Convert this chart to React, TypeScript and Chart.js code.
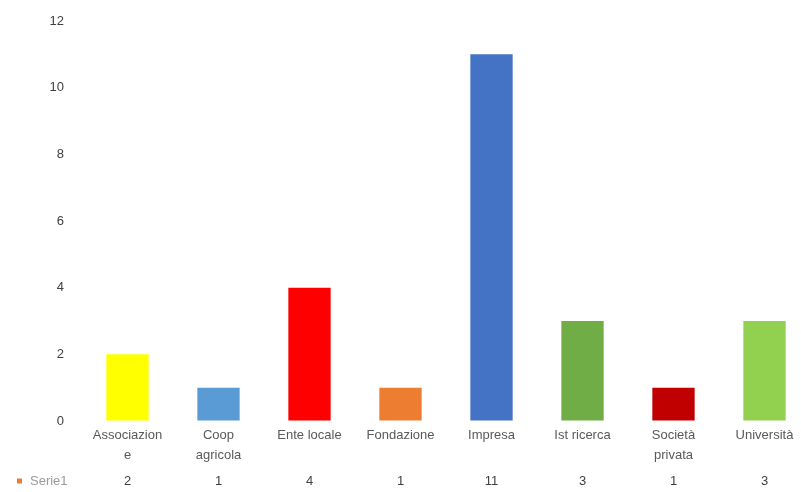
import React, { useEffect, useRef } from "react";
import { Chart, registerables } from "chart.js";

Chart.register(...registerables);

const categories: (string | string[])[] = [
  ["Associazion", "e"],
  ["Coop", "agricola"],
  "Ente locale",
  "Fondazione",
  "Impresa",
  "Ist ricerca",
  ["Società", "privata"],
  "Università",
];
const seriesName = "Serie1";
const values = [2, 1, 4, 1, 11, 3, 1, 3];
const barColors = [
  "#FFFF00",
  "#5B9BD5",
  "#FF0000",
  "#ED7D31",
  "#4472C4",
  "#70AD47",
  "#C00000",
  "#92D050",
];
const yMax = 12;
const yStep = 2;

const FONT = "'Liberation Sans', Arial, sans-serif";

const tablePlugin = {
  id: "dataTableRow",
  afterDraw(chart: any) {
    const ctx = chart.ctx;
    const x = chart.scales.x;
    const y = chart.chartArea.bottom + 60;
    ctx.save();
    ctx.font = `13px ${FONT}`;
    ctx.fillStyle = "#404040";
    ctx.textAlign = "center";
    ctx.textBaseline = "middle";
    values.forEach((v, i) => {
      ctx.fillText(String(v), x.getPixelForValue(i), y);
    });
    ctx.fillStyle = "#ED7D31";
    ctx.fillRect(17, y - 2.5, 5, 5);
    ctx.fillStyle = "#9a9a9a";
    ctx.textAlign = "left";
    ctx.fillText(seriesName, 30, y);
    ctx.restore();
  },
};

export default function App() {
  const ref = useRef<HTMLCanvasElement | null>(null);
  useEffect(() => {
    document.body.style.margin = "0";
    const chart = new Chart(ref.current!, {
      type: "bar",
      data: {
        labels: categories as any,
        datasets: [
          {
            label: seriesName,
            data: values,
            backgroundColor: barColors,
            borderWidth: 0,
            barPercentage: 0.465,
            categoryPercentage: 1,
          },
        ],
      },
      options: {
        animation: false,
        responsive: false,
        maintainAspectRatio: false,
        layout: { padding: { top: 21, right: 1, left: 0, bottom: 0 } },
        plugins: { legend: { display: false }, tooltip: { enabled: false } },
        scales: {
          x: {
            grid: { display: false, drawTicks: false },
            border: { display: false },
            ticks: {
              color: "#595959",
              font: { family: FONT, size: 13, lineHeight: 1.5 },
              padding: 5,
              maxRotation: 0,
              autoSkip: false,
            },
            afterFit(scale: any) {
              scale.height = 71;
            },
          },
          y: {
            min: 0,
            max: yMax,
            grid: {
              display: true,
              drawOnChartArea: false,
              drawTicks: true,
              tickLength: 18,
              color: "rgba(0,0,0,0)",
            },
            border: { display: false },
            ticks: {
              stepSize: yStep,
              color: "#404040",
              font: { family: FONT, size: 13 },
              padding: 0,
            },
            afterFit(scale: any) {
              scale.width = 82;
            },
          },
        },
      },
      plugins: [tablePlugin],
    });
    return () => chart.destroy();
  }, []);
  return (
    <div
      style={{
        position: "fixed",
        left: 0,
        top: 0,
        width: 801,
        height: 492,
        overflow: "hidden",
        background: "#fff",
      }}
    >
      <canvas ref={ref} width={811} height={492} style={{ width: 811, height: 492 }} />
    </div>
  );
}
